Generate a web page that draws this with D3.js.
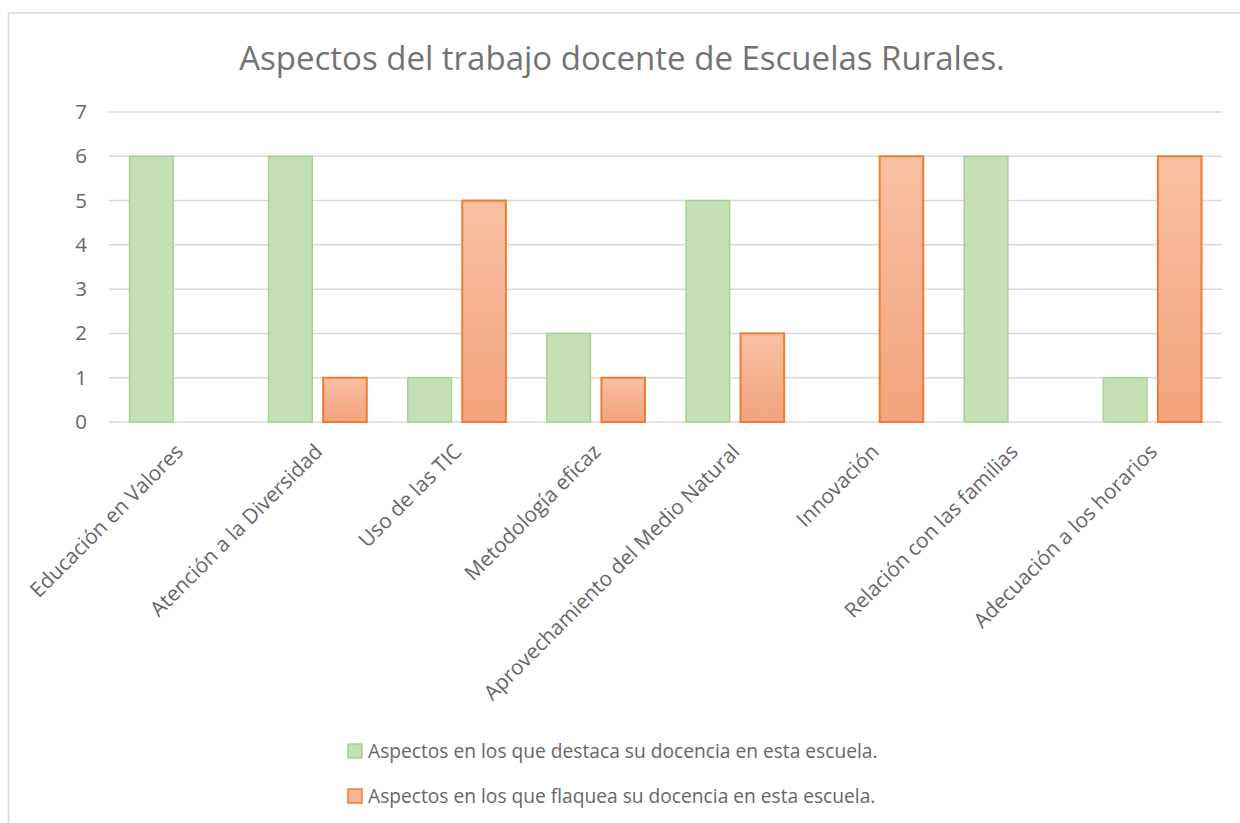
<!DOCTYPE html>
<html>
<head>
<meta charset="utf-8">
<title>Aspectos del trabajo docente de Escuelas Rurales.</title>
<style>
    body {margin: 0; background-color: white;}
    svg {display: block; font-family: "Open Sans", sans-serif;}
    .grid line {stroke: #d9d9d9; stroke-width: 1.5;}
    .tick text {fill: #666666;}
</style>
</head>
<body>
<div id="chart"></div>
<script src="https://d3js.org/d3.v7.min.js"></script>
<script>
var categories = ["Educación en Valores", "Atención a la Diversidad", "Uso de las TIC",
    "Metodología eficaz", "Aprovechamiento del Medio Natural", "Innovación",
    "Relación con las familias", "Adecuación a los horarios"];
var destaca = [6, 6, 1, 2, 5, 0, 6, 1];
var flaquea = [0, 1, 5, 1, 2, 6, 0, 6];
var seriesNames = ["Aspectos en los que destaca su docencia en esta escuela.",
    "Aspectos en los que flaquea su docencia en esta escuela."];
var yTicks = [0, 1, 2, 3, 4, 5, 6, 7];

var W = 1240, H = 823;
var margin = {left: 109, right: 18, top: 112, bottom: 401};

var svg = d3.select("#chart").append("svg")
    .attr("width", W).attr("height", H);

// outer frame, only the top and left edges are visible in the picture
svg.append("rect")
    .attr("x", 8.5).attr("y", 13)
    .attr("width", 1300).attr("height", 900)
    .attr("fill", "white")
    .attr("stroke", "#d9d9d9").attr("stroke-width", 1.5);

var defs = svg.append("defs");
var grad = defs.append("linearGradient").attr("id", "orangeGrad")
    .attr("x1", 0).attr("y1", 0).attr("x2", 0).attr("y2", 1);
grad.append("stop").attr("offset", "0%").attr("stop-color", "#f7c0a3");
grad.append("stop").attr("offset", "100%").attr("stop-color", "#f4a37d");

var x0 = d3.scaleBand().domain(categories).range([margin.left, W - margin.right]).padding(0);
var x1 = d3.scaleBand().domain([0, 1]).range([20.5, x0.bandwidth() - 20.5]).paddingInner(0.2);
var y = d3.scaleLinear().domain([0, 7]).range([H - margin.bottom, margin.top]);

// gridlines
svg.append("g").attr("class", "grid")
    .selectAll("line").data(yTicks).join("line")
    .attr("x1", margin.left).attr("x2", W - margin.right)
    .attr("y1", d => y(d)).attr("y2", d => y(d));

// y axis labels
var yAxis = svg.append("g")
    .attr("transform", "translate(" + (margin.left - 22) + ",0)")
    .call(d3.axisLeft(y).tickValues(yTicks).tickFormat(d3.format("d")).tickSize(0).tickPadding(0));
yAxis.select(".domain").remove();
yAxis.selectAll("text").attr("font-size", 20.5).attr("font-family", "Open Sans");

// x axis labels
var xAxis = svg.append("g")
    .attr("transform", "translate(0," + y(0) + ")")
    .call(d3.axisBottom(x0).tickSize(0));
xAxis.select(".domain").remove();
xAxis.selectAll("text")
    .attr("font-size", 20.8).attr("font-family", "Open Sans")
    .attr("text-anchor", "end")
    .attr("y", 0).attr("dy", 0)
    .attr("transform", "translate(6,31) rotate(-45)");

var rows = categories.map((c, i) => [{c: c, s: 0, v: destaca[i]}, {c: c, s: 1, v: flaquea[i]}]);
var fills = ["#c5e0b4", "url(#orangeGrad)"];
var strokes = ["#a9d18e", "#ed7d31"];
var sw = [1.5, 2];

svg.append("g").selectAll("g").data(rows).join("g")
    .attr("transform", d => "translate(" + x0(d[0].c) + ",0)")
    .selectAll("rect").data(d => d.filter(e => e.v > 0)).join("rect")
    .attr("x", d => x1(d.s))
    .attr("width", x1.bandwidth())
    .attr("y", d => y(d.v))
    .attr("height", d => y(0) - y(d.v))
    .attr("fill", d => fills[d.s])
    .attr("stroke", d => strokes[d.s])
    .attr("stroke-width", d => sw[d.s]);

// title
svg.append("text")
    .attr("x", 622).attr("y", 70)
    .attr("text-anchor", "middle")
    .attr("font-size", 33)
    .attr("fill", "#737373")
    .text("Aspectos del trabajo docente de Escuelas Rurales.");

// legend
var legend = svg.append("g").selectAll("g").data(seriesNames).join("g")
    .attr("transform", (d, i) => "translate(348," + (744 + i * 45) + ")");
legend.append("rect")
    .attr("width", 14).attr("height", 14)
    .attr("fill", (d, i) => i == 0 ? "#c5e0b4" : "#f7b797")
    .attr("stroke", (d, i) => strokes[i])
    .attr("stroke-width", 1.5);
legend.append("text")
    .attr("x", 20).attr("y", 14)
    .attr("font-size", 19.2)
    .attr("fill", "#666666")
    .text(d => d);
</script>
</body>
</html>
